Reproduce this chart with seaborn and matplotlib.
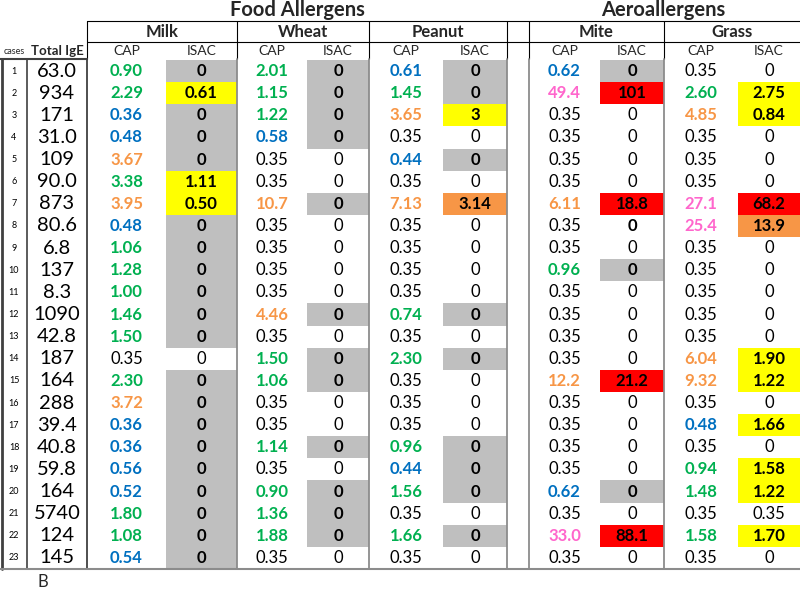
import numpy as np
import pandas as pd
import matplotlib
matplotlib.use("Agg")
import matplotlib.pyplot as plt
from matplotlib.colors import ListedColormap
import seaborn as sns

cases = [str(i) for i in range(1, 24)]
total_ige = ["63.0", "934", "171", "31.0", "109", "90.0", "873", "80.6", "6.8", "137", "8.3", "1090",
             "42.8", "187", "164", "288", "39.4", "40.8", "59.8", "164", "5740", "124", "145"]

milk_cap = ["0.90", "2.29", "0.36", "0.48", "3.67", "3.38", "3.95", "0.48", "1.06", "1.28", "1.00", "1.46",
            "1.50", "0.35", "2.30", "3.72", "0.36", "0.36", "0.56", "0.52", "1.80", "1.08", "0.54"]
milk_isac = ["0", "0.61", "0", "0", "0", "1.11", "0.50", "0", "0", "0", "0", "0",
             "0", "0", "0", "0", "0", "0", "0", "0", "0", "0", "0"]
milk_bg = "gygggyygggggg-ggggggggg"

wheat_cap = ["2.01", "1.15", "1.22", "0.58", "0.35", "0.35", "10.7", "0.35", "0.35", "0.35", "0.35", "4.46",
             "0.35", "1.50", "1.06", "0.35", "0.35", "1.14", "0.35", "0.90", "1.36", "1.88", "0.35"]
wheat_isac = ["0"] * 23
wheat_bg = "gggg--g----g-gg--g-ggg-"

peanut_cap = ["0.61", "1.45", "3.65", "0.35", "0.44", "0.35", "7.13", "0.35", "0.35", "0.35", "0.35", "0.74",
              "0.35", "2.30", "0.35", "0.35", "0.35", "0.96", "0.44", "1.56", "0.35", "1.66", "0.35"]
peanut_isac = ["0", "0", "3", "0", "0", "0", "3.14", "0", "0", "0", "0", "0",
               "0", "0", "0", "0", "0", "0", "0", "0", "0", "0", "0"]
peanut_bg = "ggy-g-o----g-g---ggg-g-"

mite_cap = ["0.62", "49.4", "0.35", "0.35", "0.35", "0.35", "6.11", "0.35", "0.35", "0.96", "0.35", "0.35",
            "0.35", "0.35", "12.2", "0.35", "0.35", "0.35", "0.35", "0.62", "0.35", "33.0", "0.35"]
mite_isac = ["0", "101", "0", "0", "0", "0", "18.8", "0", "0", "0", "0", "0",
             "0", "0", "21.2", "0", "0", "0", "0", "0", "0", "88.1", "0"]
mite_bg = "gr----rb-g----r----g-r-"

grass_cap = ["0.35", "2.60", "4.85", "0.35", "0.35", "0.35", "27.1", "25.4", "0.35", "0.35", "0.35", "0.35",
             "0.35", "6.04", "9.32", "0.35", "0.48", "0.35", "0.94", "1.48", "0.35", "1.58", "0.35"]
grass_isac = ["0", "2.75", "0.84", "0", "0", "0", "68.2", "13.9", "0", "0", "0", "0",
              "0", "1.90", "1.22", "0", "1.66", "0", "1.58", "1.22", "0.35", "1.70", "0"]
grass_bg = "-yy---ro-----yy-y-yy-y-"

allergens = ["Milk", "Wheat", "Peanut", "Mite", "Grass"]

# --- style ---
sns.set_theme(style="white")
plt.rcParams['font.family'] = ['Lato', 'DejaVu Sans']

W, H = 800, 592
TOP, BOT = 60, 569
fig = plt.figure(figsize=(W / 100, H / 100), dpi=100)

bg_codes = {'-': 0, 'b': 0, 'g': 1, 'y': 2, 'o': 3, 'r': 4}
bg_cmap = ListedColormap(['white', '#bfbfbf', '#ffff00', '#f79646', '#ff0000'])


def cap_color(v):
    v = float(v)
    if v <= 0.35:
        return 'black'
    if v < 0.7:
        return '#0070c0'
    if v < 3.5:
        return '#00b050'
    if v < 17.5:
        return '#f79646'
    return '#ff66cc'


def column(x0, x1, labels, codes, colors, weights, size):
    ax = fig.add_axes([x0 / W, 1 - BOT / H, (x1 - x0) / W, (BOT - TOP) / H])
    grid = pd.DataFrame({'v': [bg_codes[c] for c in codes]})
    sns.heatmap(grid, ax=ax, cmap=bg_cmap, vmin=-0.5, vmax=4.5, cbar=False,
                annot=np.array(labels).reshape(-1, 1), fmt='', annot_kws={'fontsize': size},
                xticklabels=False, yticklabels=False)
    for t, c, w in zip(ax.texts, colors, weights):
        t.set_color(c)
        t.set_fontweight(w)
    return ax


n = len(cases)
column(1, 27, cases, '-' * n, ['black'] * n, ['normal'] * n, 6.5)
column(27, 87, total_ige, '-' * n, ['black'] * n, ['normal'] * n, 14.5)

# column edges in pixels (CAP, ISAC) for each allergen
edges = [(87, 166, 237), (237, 307, 369), (369, 443, 507), (529, 600, 664), (664, 738, 800)]
caps = [milk_cap, wheat_cap, peanut_cap, mite_cap, grass_cap]
isacs = [milk_isac, wheat_isac, peanut_isac, mite_isac, grass_isac]
bgs = [milk_bg, wheat_bg, peanut_bg, mite_bg, grass_bg]

for (a, b, c), cap, isac, bg in zip(edges, caps, isacs, bgs):
    cc = [cap_color(v) for v in cap]
    cw = ['bold' if col != 'black' else 'normal' for col in cc]
    column(a, b, cap, '-' * n, cc, cw, 12)
    iw = ['normal' if k == '-' else 'bold' for k in bg]
    column(b, c, isac, bg, ['black'] * n, iw, 12)

# --- frame, grid lines and headers ---
ov = fig.add_axes([0, 0, 1, 1])
ov.set_xlim(0, W)
ov.set_ylim(H, 0)
ov.set_axis_off()

dark = '#404040'
grid_c = '#8c8c8c'
ov.plot([87, 800], [21, 21], color='black', lw=0.8)
ov.plot([87, 800], [42, 42], color='black', lw=0.8)
for x in [87, 237, 369, 507, 529, 664]:
    ov.plot([x, x], [21, 59], color='black', lw=0.8)
    ov.plot([x, x], [59, 569], color=grid_c if x != 87 else dark, lw=1.3)
ov.plot([1.5, 1.5], [59, 569], color=dark, lw=2)
ov.plot([27, 27], [59, 569], color=dark, lw=1.2)
ov.plot([0, 87], [59, 59], color=dark, lw=1.5)
ov.plot([0, 800], [569, 569], color=grid_c, lw=1.5)

ov.text(297, 10, "Food Allergens", ha='center', va='center', fontsize=14.5, fontweight='bold')
ov.text(663, 10, "Aeroallergens", ha='center', va='center', fontsize=14.5, fontweight='bold')
for name, (a, b, c) in zip(allergens, edges):
    ov.text((a + c) / 2, 32, name, ha='center', va='center', fontsize=12, fontweight='bold')
    ov.text((a + b) / 2, 51, "CAP", ha='center', va='center', fontsize=10)
    ov.text((b + c) / 2, 51, "ISAC", ha='center', va='center', fontsize=10)
ov.text(57, 51, "Total IgE", ha='center', va='center', fontsize=9.5, fontweight='bold')
ov.text(14, 52, "cases", ha='center', va='center', fontsize=6.5)
ov.text(43, 582, "B", ha='center', va='center', fontsize=12)

fig.savefig("out.png", dpi=100)
